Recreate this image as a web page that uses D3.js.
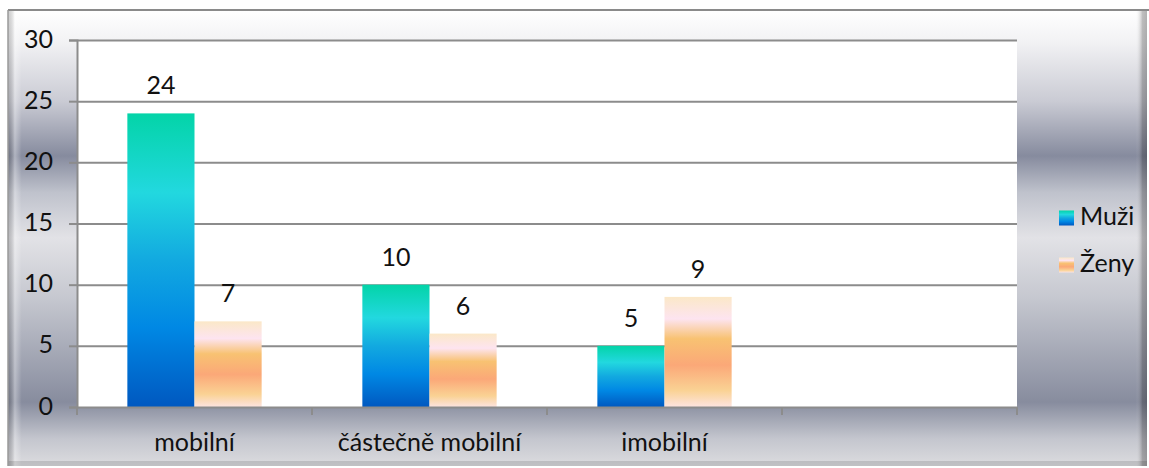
<!DOCTYPE html>
<html>
<head>
<meta charset="utf-8">
<script src="https://cdn.jsdelivr.net/npm/d3@7"></script>
<style>
  html, body { margin: 0; padding: 0; background: #fff; }
  svg { display: block; }
  text { font-family: "Lato", "Open Sans", sans-serif; fill: #111; }
</style>
</head>
<body>
<svg id="chart" width="1149" height="468"></svg>
<script>
// ---- data ----
const categories = ["mobilní", "částečně mobilní", "imobilní", ""];
const seriesNames = ["Muži", "Ženy"];
const muzi = [24, 10, 5, null];
const zeny = [7, 6, 9, null];
const yTicks = [0, 5, 10, 15, 20, 25, 30];

const svg = d3.select("#chart");
const FS = "25px";
const plot = { left: 77, right: 1017, top: 40, bottom: 407 };

const defs = svg.append("defs");
function vGrad(id, stops) {
  const g = defs.append("linearGradient").attr("id", id)
    .attr("x1", 0).attr("y1", 0).attr("x2", 0).attr("y2", 1);
  stops.forEach(s => g.append("stop").attr("offset", s[0]).attr("stop-color", s[1]));
}
vGrad("bgGrad", [
  [0, "#ffffff"], [0.07, "#f2f2f4"], [0.2, "#cacbd4"], [0.32, "#868b9e"],
  [0.40, "#bfc2cc"], [0.5, "#e2e2e6"], [0.63, "#c6c8d0"], [0.86, "#878c9e"],
  [0.94, "#c4c6ce"], [1, "#dcdcdf"]
]);
vGrad("muziGrad", [
  [0, "#03d4a8"], [0.27, "#22d8df"], [0.5, "#12a9e0"], [0.73, "#0088e4"], [1, "#0058c0"]
]);
vGrad("zenyGrad", [
  [0, "#fbe8c8"], [0.2, "#fde4f0"], [0.38, "#f8c272"], [0.62, "#fba878"],
  [0.85, "#fad294"], [1, "#fde4e0"]
]);
const hg = defs.append("linearGradient").attr("id", "edgeGrad")
  .attr("x1", 0).attr("y1", 0).attr("x2", 1).attr("y2", 0);
[[0, "#000", 0.18], [0.006, "#fff", 0.35], [0.012, "#fff", 0], [0.99, "#fff", 0], [0.996, "#000", 0.25], [1, "#000", 0.3]]
  .forEach(s => hg.append("stop").attr("offset", s[0]).attr("stop-color", s[1]).attr("stop-opacity", s[2]));

// background frame
svg.append("rect").attr("x", 8).attr("y", 10).attr("width", 1139).attr("height", 456)
  .attr("fill", "url(#bgGrad)");
svg.append("rect").attr("x", 8).attr("y", 10).attr("width", 1139).attr("height", 456)
  .attr("fill", "url(#edgeGrad)");
svg.append("rect").attr("x", 8).attr("y", 461).attr("width", 1139).attr("height", 5)
  .attr("fill", "#000").attr("opacity", 0.12);
svg.append("line").attr("x1", 8).attr("x2", 1149).attr("y1", 10).attr("y2", 10)
  .attr("stroke", "#8a8a8a").attr("stroke-width", 2);
svg.append("line").attr("x1", 8).attr("x2", 8).attr("y1", 10).attr("y2", 466)
  .attr("stroke", "#9a9a9a").attr("stroke-width", 1.5);

// plot area
svg.append("rect").attr("x", plot.left).attr("y", plot.top)
  .attr("width", plot.right - plot.left).attr("height", plot.bottom - plot.top)
  .attr("fill", "#ffffff");

const y = d3.scaleLinear().domain([0, 30]).range([plot.bottom, plot.top]);
const x = d3.scaleBand().domain(categories).range([plot.left, plot.right]).padding(0);
const xs = d3.scaleBand().domain(seriesNames).range([0, x.bandwidth()])
  .paddingInner(0).paddingOuter(0.75);

// gridlines
const grid = svg.append("g").attr("transform", `translate(${plot.left},0)`)
  .call(d3.axisLeft(y).tickValues(yTicks.filter(t => t > 0)).tickSize(-(plot.right - plot.left)).tickFormat(""));
grid.select(".domain").remove();
grid.selectAll(".tick line").attr("stroke", "#8c8c8c").attr("stroke-width", 2);

// bars
const series = [{ name: "Muži", values: muzi, fill: "url(#muziGrad)" },
                { name: "Ženy", values: zeny, fill: "url(#zenyGrad)" }];
series.forEach(s => {
  const data = categories.map((c, i) => ({ c, v: s.values[i] })).filter(d => d.v != null);
  svg.append("g").selectAll("rect").data(data).join("rect")
    .attr("x", d => x(d.c) + xs(s.name))
    .attr("y", d => y(d.v))
    .attr("width", xs.bandwidth())
    .attr("height", d => y(0) - y(d.v))
    .attr("fill", s.fill);
  svg.append("g").selectAll("text").data(data).join("text")
    .attr("x", d => x(d.c) + xs(s.name) + xs.bandwidth() / 2)
    .attr("y", d => y(d.v) - 19)
    .attr("text-anchor", "middle")
    .style("font-size", FS)
    .text(d => d.v);
});

// left axis
const ya = svg.append("g").attr("transform", `translate(${plot.left},0)`)
  .call(d3.axisLeft(y).tickValues(yTicks).tickSize(8).tickPadding(16));
ya.select(".domain").attr("stroke", "#8c8c8c").attr("stroke-width", 2);
ya.selectAll(".tick line").attr("stroke", "#8c8c8c").attr("stroke-width", 2);
ya.selectAll(".tick text").style("font-size", FS).style("font-family", "Lato, 'Open Sans', sans-serif")
  .attr("fill", "#111").attr("dy", "0.28em");

// bottom axis
const xa = svg.append("g").attr("transform", `translate(0,${plot.bottom})`)
  .call(d3.axisBottom(x).tickSize(0).tickPadding(26));
xa.select(".domain").attr("stroke", "#8c8c8c").attr("stroke-width", 2);
xa.selectAll(".tick text").style("font-size", FS).style("font-family", "Lato, 'Open Sans', sans-serif")
  .attr("fill", "#111");
// category boundary ticks
const bounds = categories.map(c => x(c)).concat([plot.right]);
svg.append("g").selectAll("line").data(bounds).join("line")
  .attr("x1", d => d).attr("x2", d => d)
  .attr("y1", plot.bottom).attr("y2", plot.bottom + 8)
  .attr("stroke", "#8c8c8c").attr("stroke-width", 2);

// legend
const lg = svg.append("g");
series.forEach((s, i) => {
  const cy = 218 + i * 47;
  lg.append("rect").attr("x", 1059).attr("y", cy - 7.5).attr("width", 15).attr("height", 15)
    .attr("fill", s.fill);
  lg.append("text").attr("x", 1080).attr("y", cy + 7).style("font-size", FS).text(s.name);
});
</script>
</body>
</html>
